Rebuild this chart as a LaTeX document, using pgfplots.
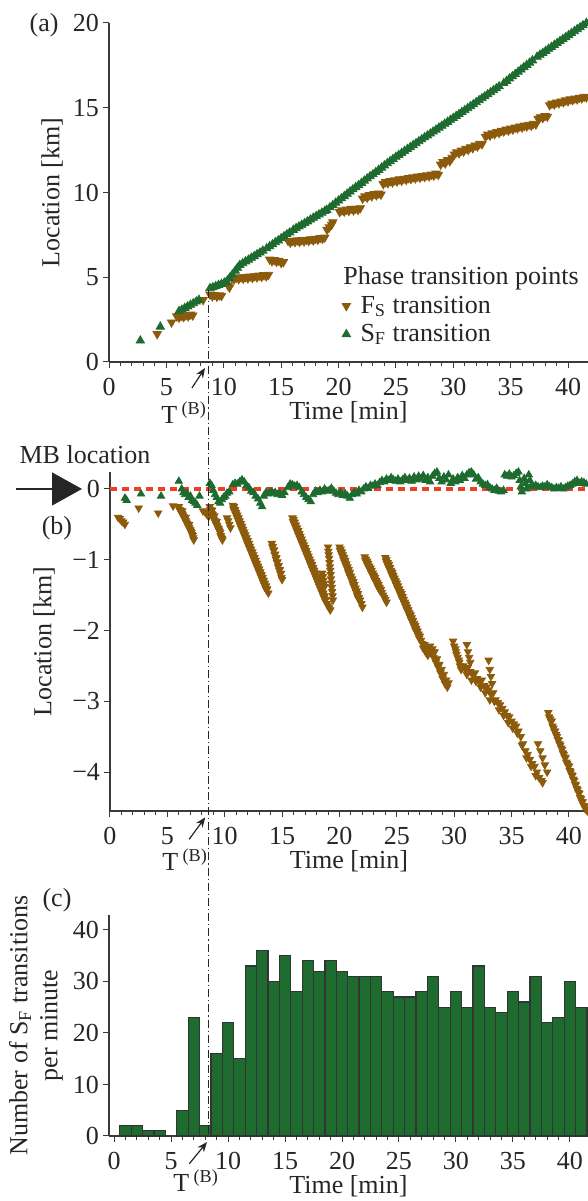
\documentclass[border=0pt]{standalone}
\usepackage{fontspec}
\setmainfont{Liberation Serif}
\usepackage{pgfplots}
\pgfplotsset{compat=1.18}
\usetikzlibrary{arrows.meta}

\definecolor{sfgreen}{HTML}{1D6B2F}
\definecolor{fsbrown}{HTML}{8C5A0B}
\definecolor{mbred}{HTML}{EE3F24}
\definecolor{axgray}{HTML}{3A3A3A}
\newcommand\ff{\fontsize{13}{15}\selectfont}

\pgfplotsset{
  panel/.style={
    scale only axis, width=239.5pt,
    axis lines=left, axis line style={-, axgray, line width=0.6pt},
    tick align=outside, major tick length=3pt, minor tick length=2pt,
    every tick/.style={axgray, line width=0.5pt},
    tick label style={font=\ff, text=black!85},
    xticklabel style={yshift=-1.5pt},
    yticklabel style={xshift=1.5pt},
    label style={font=\ff, text=black!85},
    xlabel style={at={(rel axis cs:0.5,0)}, anchor=center, yshift=-25pt},
    /pgf/number format/assume math mode=true,
    xtick={0,5,...,40}, minor x tick num=4,
    clip=false,
  },
  fsmark/.style={only marks, mark=triangle*, mark size=2.1pt, color=fsbrown, mark options={rotate=180}},
  sfmark/.style={only marks, mark=triangle*, mark size=2.1pt, color=sfgreen},
}
\tikzset{
  tb/.style={font=\ff, text=black!85},
  tbarrow/.style={-{Stealth[length=5pt,width=4pt]}, line width=0.6pt, black!85},
}

\begin{document}
\begin{tikzpicture}

% ---------------- (a) locations of the transition points
\begin{axis}[panel, at={(54.5pt,419.5pt)}, anchor=south west, height=169.5pt,
  xmin=0, xmax=41.74, ymin=0, ymax=20, ytick={0,5,...,20},
  xlabel={Time [min]}, ylabel={Location [km]},
  ylabel style={at={(rel axis cs:0,0.5)}, anchor=center, yshift=28.5pt},
  legend style={draw=none, fill=none, at={(rel axis cs:0.486,0.205)}, anchor=north west,
    font=\ff, inner sep=0pt, row sep=1pt, nodes={inner sep=1.5pt, text=black!85},
    /tikz/every odd column/.append style={column sep=3.5pt}},
  legend cell align=left]
\addplot[fsmark, mark size=2.4pt] coordinates {
(4.2,1.65) (5.45,2.34)
(5.9,2.70) (6.1,2.62) (6.3,2.72) (6.5,2.66) (6.7,2.76) (6.9,2.70) (7.1,2.80) (7.3,2.75)
(8.2,3.66)
(8.8,3.98) (9.0,3.88) (9.2,3.96) (9.4,3.86) (9.6,3.94) (9.8,3.90)
(10.4,4.48) (10.5,4.40)
(10.7,4.95) (10.9,4.88) (11.1,4.98) (11.3,4.90) (11.5,5.00) (11.7,4.92) (11.9,5.02) (12.1,4.94)
(12.3,5.05) (12.5,4.97) (12.7,5.07) (12.9,5.00) (13.1,5.10) (13.3,5.03) (13.5,5.13) (13.7,5.06) (13.9,5.15)
(14.0,6.05) (14.2,5.95) (14.4,6.02) (14.6,5.92) (14.8,5.98) (15.0,5.85) (15.2,5.90)
(15.6,7.15) (15.8,7.05) (16.0,7.15) (16.2,7.08) (16.4,7.18) (16.6,7.10) (16.8,7.20) (17.0,7.12)
(17.2,7.22) (17.4,7.15) (17.6,7.25) (17.8,7.18) (18.0,7.28) (18.2,7.22) (18.4,7.32) (18.6,7.28) (18.8,7.35)
(19.0,7.80) (19.2,7.95) (19.4,8.10) (19.5,8.25)
(20.1,8.85) (20.3,8.95) (20.5,8.88) (20.7,9.00) (20.9,8.92) (21.1,9.05) (21.3,8.95) (21.5,9.05) (21.7,8.98) (21.9,9.08)
(22.1,9.65) (22.3,9.78) (22.5,9.70) (22.7,9.85) (22.9,9.78) (23.1,9.92) (23.3,9.84) (23.5,9.95) (23.7,9.88)
(23.9,10.50) (24.1,10.62) (24.3,10.55) (24.5,10.68) (24.7,10.60) (24.9,10.72) (25.1,10.65) (25.3,10.78)
(25.5,10.70) (25.7,10.82) (25.9,10.75) (26.1,10.86) (26.3,10.80) (26.5,10.90) (26.7,10.84) (26.9,10.95)
(27.1,10.88) (27.3,10.98) (27.5,10.92) (27.7,11.02) (27.9,10.96) (28.1,11.06) (28.3,11.00) (28.5,11.12) (28.7,11.05)
(28.9,11.65) (29.1,11.80) (29.3,11.72) (29.5,11.92) (29.7,11.85) (29.9,12.05)
(30.1,12.25) (30.3,12.38) (30.5,12.32) (30.7,12.48) (30.9,12.42) (31.1,12.58) (31.3,12.52) (31.5,12.68)
(31.7,12.62) (31.9,12.78) (32.1,12.72) (32.3,12.88) (32.5,12.85)
(32.8,13.30) (33.0,13.42) (33.2,13.36) (33.4,13.50) (33.6,13.45) (33.8,13.58) (34.0,13.52) (34.2,13.65)
(34.4,13.60) (34.6,13.72) (34.8,13.66) (35.0,13.78) (35.2,13.72) (35.4,13.84) (35.6,13.79) (35.8,13.90)
(36.0,13.84) (36.2,13.95) (36.4,13.90) (36.6,14.00) (36.8,13.95) (37.0,14.06) (37.2,14.02)
(37.4,14.35) (37.6,14.45) (37.8,14.40) (38.0,14.52) (38.2,14.48)
(38.4,15.15) (38.6,15.25) (38.8,15.20) (39.0,15.32) (39.2,15.27) (39.4,15.38) (39.6,15.33) (39.8,15.44)
(40.0,15.39) (40.2,15.50) (40.4,15.45) (40.6,15.55) (40.8,15.50) (41.0,15.60) (41.2,15.56) (41.4,15.65) (41.6,15.62)
};
\addlegendentry{F\textsubscript{S} transition}
\addplot[sfmark, mark size=2.4pt] coordinates {
(2.73,1.26) (4.47,2.08)
(6.1,3.00) (6.35,3.08) (6.6,3.18) (6.85,3.27) (7.1,3.37) (7.35,3.46) (7.6,3.56) (7.84,3.66)
(8.8,4.35) (9.05,4.40) (9.3,4.47) (9.55,4.54) (9.8,4.60) (10.05,4.68) (10.25,4.74) (10.5,4.95)
(10.75,5.16) (11.0,5.38) (11.2,5.55) (11.4,5.72) (11.65,5.82) (11.9,5.93) (12.15,6.03) (12.4,6.14)
(12.65,6.24) (12.9,6.35) (13.15,6.45) (13.4,6.56) (13.74,6.70) (14.0,6.82) (14.25,6.94) (14.5,7.06)
(14.75,7.17) (15.0,7.29) (15.25,7.41) (15.5,7.53) (15.75,7.64) (16.06,7.79) (16.3,7.89) (16.55,7.99)
(16.8,8.09) (17.05,8.19) (17.3,8.29) (17.55,8.40) (17.8,8.50) (18.05,8.60) (18.3,8.70) (18.55,8.80)
(18.8,8.90) (18.97,8.97) (19.25,9.12) (19.5,9.25) (19.75,9.39) (20.0,9.52) (20.25,9.65) (20.5,9.78)
(20.75,9.92) (21.0,10.05) (21.25,10.18) (21.5,10.31) (21.75,10.43) (22.0,10.56) (22.25,10.69) (22.5,10.82)
(22.75,10.95) (23.0,11.07) (23.25,11.20) (23.5,11.33) (23.75,11.46) (24.0,11.59) (24.25,11.72) (24.5,11.84)
(24.75,11.97) (25.0,12.10) (25.25,12.21) (25.5,12.33) (25.75,12.44) (26.0,12.56) (26.25,12.67) (26.5,12.79)
(26.75,12.90) (27.0,13.02) (27.25,13.13) (27.5,13.25) (27.75,13.36) (28.0,13.47) (28.25,13.59) (28.5,13.70)
(28.75,13.82) (29.0,13.93) (29.25,14.05) (29.5,14.16) (29.75,14.28) (30.0,14.39) (30.25,14.51) (30.5,14.62)
(30.75,14.74) (31.0,14.85) (31.25,14.97) (31.5,15.09) (31.75,15.20) (32.0,15.32) (32.25,15.44) (32.5,15.56)
(32.75,15.67) (33.0,15.79) (33.25,15.91) (33.5,16.03) (33.75,16.14) (34.0,16.26) (34.4,16.45) (34.65,16.58)
(34.9,16.72) (35.15,16.85) (35.4,16.98) (35.65,17.12) (35.9,17.25) (36.15,17.39) (36.4,17.52) (36.65,17.65)
(36.9,17.79) (37.3,18.00) (37.55,18.12) (37.8,18.23) (38.05,18.35) (38.3,18.47) (38.55,18.58) (38.8,18.70)
(39.05,18.81) (39.3,18.93) (39.55,19.05) (39.8,19.16) (40.05,19.28) (40.3,19.40) (40.55,19.51) (40.8,19.63)
(41.05,19.74) (41.3,19.86) (41.6,20.00)
};
\addlegendentry{S\textsubscript{F} transition}
\node[font=\ff, text=black!85, anchor=base west, inner sep=0pt] at (rel axis cs:0.4885,0.230) {Phase transition points};
\node[font=\ff, text=black!85] at (axis cs:-5.66,19.88) {(a)};
\coordinate (Ttop) at (axis cs:8.63,4.25);
\node[tb] at (axis cs:6.55,-3.0) {T\,\textsuperscript{(B)}};
\draw[tbarrow] (axis cs:7.23,-1.53) -- (axis cs:8.37,-0.35);
\end{axis}

% ---------------- (b) locations relative to the MB
\begin{axis}[panel, at={(55pt,195pt)}, anchor=south west, width=239pt, height=169.5pt,
  xmin=0, xmax=41.66, ymin=-4.55, ymax=0.24,
  ytick={-4,-3,-2,-1,0}, yticklabels={−4,−3,−2,−1,0},
  xlabel={Time [min]}, ylabel={Location [km]},
  ylabel style={at={(rel axis cs:0,0.5)}, anchor=center, yshift=33pt}]
\addplot[mbred, line width=1.6pt, dash pattern=on 3.5pt off 2.5pt] coordinates {(0,0) (41.66,0)};
\addplot[fsmark] coordinates {
(0.7,-0.40) (0.85,-0.42) (1.0,-0.45) (1.15,-0.47) (1.3,-0.50)
(2.5,-0.27) (4.2,-0.34) (5.5,-0.24)
(6.0,-0.25) (6.05,-0.29) (6.1,-0.30) (6.15,-0.31) (6.2,-0.32) (6.25,-0.35) (6.3,-0.36) (6.35,-0.37)
(6.4,-0.39) (6.45,-0.41) (6.5,-0.42) (6.55,-0.44) (6.6,-0.45) (6.65,-0.47) (6.7,-0.49) (6.75,-0.50)
(6.8,-0.52) (6.85,-0.54) (6.9,-0.55) (6.95,-0.57) (7.0,-0.58) (7.05,-0.60) (7.1,-0.62) (7.15,-0.64)
(7.2,-0.66) (7.25,-0.69) (7.3,-0.72) (6.3,-0.31) (6.6,-0.40) (6.9,-0.50)
(8.1,-0.31) (8.3,-0.33) (8.45,-0.36) (8.6,-0.39)
(8.7,-0.25) (8.75,-0.29) (8.8,-0.32) (8.85,-0.35) (8.9,-0.30) (8.95,-0.36) (9.0,-0.40) (9.05,-0.43)
(9.1,-0.38) (9.15,-0.45) (9.2,-0.48) (9.25,-0.50) (9.3,-0.46) (9.35,-0.52) (9.4,-0.55) (9.45,-0.56)
(9.5,-0.58) (9.55,-0.60) (9.6,-0.62) (9.65,-0.66) (9.7,-0.68) (9.75,-0.70) (9.8,-0.72)
(10.2,-0.41) (10.3,-0.45) (10.4,-0.50) (10.5,-0.55)
(10.7,-0.23) (10.75,-0.28) (10.8,-0.25) (10.85,-0.32) (10.9,-0.29) (10.95,-0.36) (11.0,-0.33) (11.05,-0.40)
(11.1,-0.37) (11.15,-0.44) (11.2,-0.41) (11.25,-0.48) (11.3,-0.45) (11.35,-0.52) (11.4,-0.49) (11.45,-0.56)
(11.5,-0.53) (11.55,-0.60) (11.6,-0.57) (11.65,-0.64) (11.7,-0.61) (11.75,-0.68) (11.8,-0.65) (11.85,-0.72)
(11.9,-0.69) (11.95,-0.76) (12.0,-0.73) (12.05,-0.80) (12.1,-0.77) (12.15,-0.84) (12.2,-0.81) (12.25,-0.88)
(12.3,-0.85) (12.35,-0.92) (12.4,-0.89) (12.45,-0.96) (12.5,-0.93) (12.55,-1.00) (12.6,-0.97) (12.65,-1.04)
(12.7,-1.01) (12.75,-1.08) (12.8,-1.05) (12.85,-1.12) (12.9,-1.09) (12.95,-1.16) (13.0,-1.13) (13.05,-1.20)
(13.1,-1.17) (13.15,-1.24) (13.2,-1.21) (13.25,-1.28) (13.3,-1.25) (13.35,-1.32) (13.4,-1.29) (13.45,-1.36)
(13.5,-1.33) (13.55,-1.40) (13.6,-1.37) (13.65,-1.43) (13.7,-1.41) (13.8,-1.47)
(14.1,-0.77) (14.15,-0.82) (14.2,-0.81) (14.25,-0.87) (14.3,-0.86) (14.35,-0.93) (14.4,-0.92) (14.45,-0.99)
(14.5,-0.97) (14.55,-1.04) (14.6,-1.03) (14.65,-1.10) (14.7,-1.08) (14.75,-1.15) (14.8,-1.14) (14.85,-1.20)
(14.9,-1.19) (14.95,-1.25) (15.0,-1.28)
(15.9,-0.41) (15.95,-0.46) (16.0,-0.43) (16.05,-0.50) (16.1,-0.47) (16.15,-0.54) (16.2,-0.51) (16.25,-0.58)
(16.3,-0.55) (16.35,-0.62) (16.4,-0.59) (16.45,-0.66) (16.5,-0.63) (16.55,-0.70) (16.6,-0.67) (16.65,-0.74)
(16.7,-0.71) (16.75,-0.78) (16.8,-0.75) (16.85,-0.82) (16.9,-0.79) (16.95,-0.86) (17.0,-0.83) (17.05,-0.90)
(17.1,-0.87) (17.15,-0.94) (17.2,-0.91) (17.25,-0.98) (17.3,-0.95) (17.35,-1.02) (17.4,-0.99) (17.45,-1.06)
(17.5,-1.03) (17.55,-1.10) (17.6,-1.07) (17.65,-1.14) (17.7,-1.11) (17.75,-1.18) (17.8,-1.15) (17.85,-1.22)
(17.9,-1.19) (17.95,-1.26) (18.0,-1.23) (18.05,-1.30) (18.1,-1.27) (18.15,-1.34) (18.2,-1.31) (18.25,-1.38)
(18.3,-1.35) (18.35,-1.42) (18.4,-1.39) (18.45,-1.46) (18.5,-1.43) (18.55,-1.50) (18.6,-1.47) (18.65,-1.54)
(18.7,-1.51) (18.75,-1.58) (18.8,-1.56) (18.9,-1.62) (19.0,-1.65) (19.1,-1.68) (19.2,-1.71)
(18.5,-1.19) (18.55,-1.24) (18.6,-1.29) (18.65,-1.34) (18.7,-1.38)
(19.0,-0.82) (19.03,-0.88) (19.06,-0.93) (19.1,-0.98) (19.13,-1.04) (19.16,-1.10) (19.2,-1.15) (19.23,-1.21)
(19.26,-1.27) (19.3,-1.33) (19.33,-1.39) (19.36,-1.45) (19.4,-1.51) (19.43,-1.57)
(20.0,-0.82) (20.05,-0.87) (20.1,-0.85) (20.15,-0.91) (20.2,-0.89) (20.25,-0.95) (20.3,-0.93) (20.35,-1.00)
(20.4,-0.97) (20.45,-1.04) (20.5,-1.01) (20.55,-1.08) (20.6,-1.06) (20.65,-1.12) (20.7,-1.10) (20.75,-1.17)
(20.8,-1.14) (20.85,-1.21) (20.9,-1.18) (20.95,-1.25) (21.0,-1.23) (21.05,-1.29) (21.1,-1.27) (21.15,-1.34)
(21.2,-1.31) (21.25,-1.38) (21.3,-1.35) (21.35,-1.42) (21.4,-1.40) (21.45,-1.46) (21.5,-1.44) (21.55,-1.51)
(21.6,-1.48) (21.65,-1.55) (21.7,-1.53) (21.8,-1.57) (21.9,-1.62) (22.0,-1.67)
(22.2,-0.96) (22.25,-1.01) (22.3,-0.99) (22.35,-1.04) (22.4,-1.02) (22.45,-1.08) (22.5,-1.05) (22.55,-1.11)
(22.6,-1.09) (22.65,-1.14) (22.7,-1.12) (22.75,-1.18) (22.8,-1.15) (22.85,-1.21) (22.9,-1.19) (22.95,-1.24)
(23.0,-1.22) (23.05,-1.28) (23.1,-1.25) (23.15,-1.31) (23.2,-1.29) (23.25,-1.34) (23.3,-1.32) (23.35,-1.38)
(23.4,-1.35) (23.45,-1.41) (23.5,-1.39) (23.55,-1.44) (23.6,-1.42) (23.7,-1.46) (23.8,-1.50) (23.9,-1.53)
(24.0,-1.56) (24.1,-1.60)
(24.0,-0.97) (24.05,-1.02) (24.1,-1.00) (24.15,-1.06) (24.2,-1.04) (24.25,-1.10) (24.3,-1.07) (24.35,-1.13)
(24.4,-1.11) (24.45,-1.17) (24.5,-1.15) (24.55,-1.21) (24.6,-1.18) (24.65,-1.25) (24.7,-1.22) (24.75,-1.28)
(24.8,-1.26) (24.85,-1.32) (24.9,-1.30) (24.95,-1.36) (25.0,-1.33) (25.05,-1.40) (25.1,-1.37) (25.15,-1.43)
(25.2,-1.41) (25.25,-1.47) (25.3,-1.45) (25.35,-1.51) (25.4,-1.48) (25.45,-1.55) (25.5,-1.52) (25.55,-1.58)
(25.6,-1.56) (25.65,-1.62) (25.7,-1.60) (25.75,-1.66) (25.8,-1.63) (25.85,-1.70) (25.9,-1.67) (25.95,-1.73)
(26.0,-1.71) (26.05,-1.77) (26.1,-1.75) (26.15,-1.81) (26.2,-1.78) (26.25,-1.85) (26.3,-1.82) (26.35,-1.88)
(26.4,-1.86) (26.45,-1.92) (26.5,-1.90) (26.55,-1.96) (26.6,-1.93) (26.65,-2.00) (26.7,-1.97) (26.75,-2.03)
(26.8,-2.01) (26.85,-2.07) (26.9,-2.05) (26.95,-2.11) (27.0,-2.08) (27.1,-2.14) (27.2,-2.18)
(27.3,-2.25) (27.4,-2.20) (27.5,-2.30) (27.6,-2.24) (27.7,-2.35) (27.8,-2.28) (27.9,-2.22) (28.0,-2.32)
(28.1,-2.26) (28.2,-2.38) (28.3,-2.30) (28.4,-2.45) (28.5,-2.40) (28.6,-2.52) (28.7,-2.48) (28.8,-2.60)
(28.9,-2.55) (29.0,-2.68) (29.1,-2.62) (29.2,-2.75) (29.3,-2.70) (29.4,-2.80) (29.5,-2.74)
(29.9,-2.15) (30.0,-2.22) (30.1,-2.26) (30.15,-2.30) (30.2,-2.34) (30.3,-2.38) (30.4,-2.42) (30.45,-2.45)
(30.5,-2.50) (30.6,-2.55) (30.75,-2.52)
(31.1,-2.20) (31.2,-2.30) (31.3,-2.38) (31.4,-2.45)
(30.8,-2.50) (31.0,-2.55) (31.2,-2.52) (31.4,-2.58) (31.6,-2.62) (31.8,-2.60) (32.0,-2.68) (32.2,-2.72)
(32.4,-2.70) (32.6,-2.78) (32.8,-2.80) (33.0,-2.84) (33.2,-2.90) (33.4,-2.88) (33.6,-2.98) (33.8,-3.02)
(34.0,-3.05) (34.2,-3.10) (34.4,-3.15) (34.6,-3.20) (34.8,-3.22) (35.0,-3.28) (35.2,-3.32) (35.4,-3.35)
(35.6,-3.42) (35.8,-3.50) (36.0,-3.60) (36.2,-3.70) (36.4,-3.75) (36.6,-3.82) (36.8,-3.88) (37.0,-3.92)
(37.2,-4.00) (37.4,-4.08) (37.6,-4.12) (37.7,-4.15)
(31.1,-2.62) (31.5,-2.70) (31.9,-2.72) (32.3,-2.80) (32.7,-2.88) (33.1,-2.98) (33.5,-3.00) (33.9,-3.12)
(34.3,-3.20) (34.7,-3.30) (35.1,-3.38) (35.5,-3.45) (35.9,-3.62) (36.3,-3.80) (36.7,-3.92) (37.1,-4.05)
(33.0,-2.42) (33.1,-2.55) (33.2,-2.65) (33.3,-2.75)
(37.3,-3.60) (37.5,-3.70) (37.7,-3.80) (37.9,-3.90) (38.1,-4.00)
(38.2,-3.16) (38.27,-3.22) (38.35,-3.25) (38.42,-3.28) (38.5,-3.28) (38.57,-3.35) (38.65,-3.38) (38.72,-3.42)
(38.8,-3.42) (38.87,-3.47) (38.95,-3.50) (39.02,-3.54) (39.1,-3.55) (39.17,-3.60) (39.25,-3.62) (39.32,-3.66)
(39.4,-3.68) (39.47,-3.73) (39.55,-3.75) (39.62,-3.79) (39.7,-3.80) (39.77,-3.86) (39.85,-3.88) (39.92,-3.91)
(40.0,-3.92) (40.07,-3.98) (40.15,-4.00) (40.22,-4.04) (40.3,-4.05) (40.37,-4.10) (40.45,-4.12) (40.52,-4.17)
(40.6,-4.18) (40.67,-4.23) (40.75,-4.25) (40.82,-4.29) (40.9,-4.30) (40.97,-4.36) (41.05,-4.38) (41.12,-4.42)
(41.2,-4.42) (41.27,-4.47) (41.35,-4.48) (41.42,-4.52) (41.5,-4.52) (41.6,-4.55)
};
\addplot[sfmark] coordinates {
(1.3,-0.13) (1.45,-0.16) (2.7,-0.07) (4.45,-0.10) (6.0,0.11)
(6.25,0.00) (6.4,-0.05) (6.55,-0.08) (6.7,-0.06) (6.85,-0.12) (7.0,-0.10) (7.15,-0.16) (7.3,-0.18)
(7.45,-0.20) (7.6,-0.23) (7.8,-0.10)
(8.7,0.08) (8.85,0.05) (9.0,-0.02) (9.15,-0.08) (9.3,-0.12) (9.45,-0.18) (9.6,-0.20) (9.75,-0.15)
(9.9,-0.12) (10.05,-0.10) (10.2,-0.06) (10.4,-0.04) (10.7,0.06) (10.9,0.08) (11.1,0.07) (11.3,0.10)
(11.5,0.13) (11.7,0.10) (11.9,0.05) (12.1,0.02) (12.3,-0.03) (12.5,-0.05) (12.7,-0.10) (12.9,-0.14)
(13.1,-0.20) (13.25,-0.25) (13.4,-0.10) (13.6,-0.05) (13.8,-0.07) (14.0,-0.04) (14.2,-0.06) (14.4,-0.05)
(14.6,-0.08) (14.8,-0.06) (15.0,-0.09) (15.2,-0.05) (15.5,0.02) (15.7,0.07) (15.9,0.06) (16.1,0.04)
(16.3,0.05) (16.5,0.02) (16.7,-0.04) (16.9,-0.08) (17.1,-0.12) (17.3,-0.15) (17.5,-0.18) (17.7,-0.08)
(17.9,-0.03) (18.1,-0.05) (18.3,-0.02) (18.5,-0.04) (18.7,0.00) (18.9,-0.03) (19.1,-0.02) (19.3,0.01)
(19.5,-0.03) (19.7,-0.06) (19.9,-0.08) (20.1,-0.05) (20.3,-0.09) (20.5,-0.07) (20.7,-0.10) (20.9,-0.13)
(21.1,-0.08) (21.3,-0.05) (21.5,-0.07) (21.7,-0.02) (21.9,-0.04) (22.1,0.00) (22.3,0.03) (22.5,0.01)
(22.7,0.05) (22.9,0.04) (23.1,0.07) (23.3,0.05) (23.5,0.09) (23.7,0.12) (23.9,0.10) (24.1,0.14)
(24.3,0.12) (24.5,0.16) (24.7,0.13) (24.9,0.11) (25.1,0.14) (25.3,0.10) (25.5,0.13) (25.7,0.16)
(25.9,0.12) (26.1,0.15) (26.3,0.11) (26.5,0.17) (26.7,0.13) (26.9,0.18) (27.1,0.14) (27.3,0.19)
(27.5,0.12) (27.7,0.16) (27.9,0.10) (28.1,0.18) (28.3,0.22) (28.5,0.24) (28.7,0.15) (28.9,0.10)
(29.1,0.17) (29.3,0.13) (29.5,0.20) (29.7,0.08) (29.9,0.14) (30.1,0.10) (30.3,0.16) (30.5,0.12)
(30.7,0.19) (30.9,0.15) (31.1,0.20) (31.3,0.23) (31.5,0.24) (31.7,0.20) (31.9,0.14) (32.1,0.16)
(32.3,0.10) (32.5,0.07) (32.7,0.05) (32.9,0.06) (33.1,0.02) (33.3,0.00) (33.5,-0.02) (33.7,0.01)
(33.9,-0.03) (34.1,-0.04) (34.3,-0.02)
(34.4,0.20) (34.6,0.18) (34.8,0.21) (35.0,0.17) (35.2,0.19) (35.4,0.22) (35.6,0.24) (35.7,0.12)
(35.8,0.03) (35.9,-0.04) (36.1,0.15) (36.2,0.08) (36.3,0.00) (36.5,0.20) (36.6,0.12) (36.7,0.04)
(36.9,0.03) (37.1,0.05) (37.3,0.03) (37.5,0.02) (37.7,0.04) (37.9,0.03) (38.1,0.06) (38.3,0.03)
(38.5,0.02) (38.7,0.00) (38.9,0.02) (39.1,0.01) (39.3,0.03) (39.5,0.00) (39.7,0.02) (39.9,0.04)
(40.1,0.05) (40.3,0.07) (40.5,0.10) (40.7,0.12) (40.9,0.08) (41.1,0.10) (41.3,0.09) (41.5,0.07)
};
\node[font=\ff, text=black!85] at (axis cs:-2.18,0.48) {MB location};
\draw[black!85, line width=0.6pt, -{Triangle[length=15pt,width=16.5pt]}] (axis cs:-8.19,0) -- (axis cs:-2.44,0);
\node[font=\ff, text=black!85] at (axis cs:-4.62,-0.55) {(b)};
\node[tb] at (axis cs:6.55,-5.24) {T\,\textsuperscript{(B)}};
\draw[tbarrow] (axis cs:6.9,-4.95) -- (axis cs:8.3,-4.64);
\end{axis}

% ---------------- (c) S_F transitions per minute
\begin{axis}[panel, at={(54.5pt,32.5pt)}, anchor=south west, height=110.5pt,
  xmin=-0.44, xmax=41.58, ymin=0, ymax=42.9, ytick={0,10,...,40},
  xlabel={Time [min]}, ylabel={Number of S\textsubscript{F} transitions\\per minute},
  ylabel style={align=center, at={(rel axis cs:0,0.5)}, anchor=center, yshift=36.5pt}]
\addplot[ybar, bar width=1, fill=sfgreen, draw=black!80, line width=0.6pt] coordinates {
(1,2) (2,2) (3,1) (4,1) (6,5) (7,23) (8,2) (9,16) (10,22) (11,15) (12,33) (13,36) (14,30) (15,35)
(16,28) (17,34) (18,32) (19,34) (20,32) (21,31) (22,31) (23,31) (24,28) (25,27) (26,27) (27,28)
(28,31) (29,25) (30,28) (31,25) (32,33) (33,25) (34,24) (35,28) (36,26) (37,31) (38,22) (39,23)
(40,30) (41,25)
};
\node[font=\ff, text=black!85] at (axis cs:-5.0,45.8) {(c)};
\coordinate (Tbot) at (axis cs:8.25,0);
\node[tb] at (axis cs:7.2,-8.7) {T\,\textsuperscript{(B)}};
\draw[tbarrow] (axis cs:6.6,-5.4) -- (axis cs:8.16,-1.17);
\end{axis}

\draw[black!85, line width=0.5pt, dash pattern=on 4pt off 1.5pt on 0.6pt off 1.5pt] (Ttop) -- (Ttop |- Tbot);

\pgfresetboundingbox
\path[use as bounding box] (0,0) rectangle (294pt,600.5pt);
\end{tikzpicture}
\end{document}
